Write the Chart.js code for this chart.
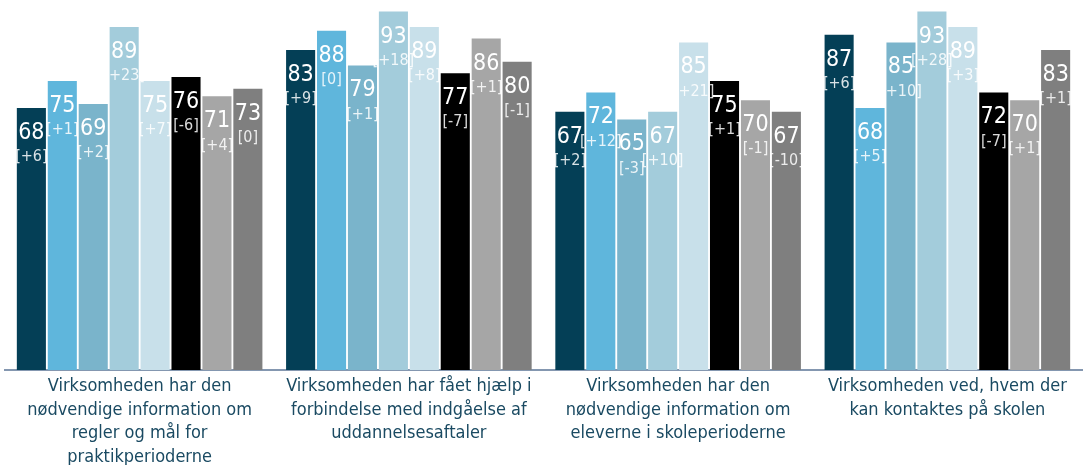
<!DOCTYPE html>
<html>
<head>
<meta charset="utf-8">
<script src="https://cdn.jsdelivr.net/npm/chart.js@4/dist/chart.umd.min.js"></script>
<style>
  html, body { margin: 0; padding: 0; background: #ffffff; }
  #wrap { width: 1083px; height: 465px; position: relative; }
</style>
</head>
<body>
<div id="wrap"><canvas id="c" width="1083" height="465"></canvas></div>
<script>
const categories = [
  ["Virksomheden har den", "nødvendige information om", "regler og mål for", "praktikperioderne"],
  ["Virksomheden har fået hjælp i", "forbindelse med indgåelse af", "uddannelsesaftaler"],
  ["Virksomheden har den", "nødvendige information om", "eleverne i skoleperioderne"],
  ["Virksomheden ved, hvem der", "kan kontaktes på skolen"]
];
const series1 = [68, 83, 67, 87];
const series2 = [75, 88, 72, 68];
const series3 = [69, 79, 65, 85];
const series4 = [89, 93, 67, 93];
const series5 = [75, 89, 85, 89];
const series6 = [76, 77, 75, 72];
const series7 = [71, 86, 70, 70];
const series8 = [73, 80, 67, 83];
const change1 = [6, 9, 2, 6];
const change2 = [1, 0, 12, 5];
const change3 = [2, 1, -3, 10];
const change4 = [23, 18, 10, 28];
const change5 = [7, 8, 21, 3];
const change6 = [-6, -7, 1, -7];
const change7 = [4, 1, -1, 1];
const change8 = [0, -1, -10, 1];
const colors = ["#043f56", "#5fb6dc", "#7ab4cb", "#a3ccdb", "#c8e0ea", "#000000", "#a6a6a6", "#7f7f7f"];

const values = [series1, series2, series3, series4, series5, series6, series7, series8];
const changes = [change1, change2, change3, change4, change5, change6, change7, change8];

const FONT = '"DejaVu Sans Condensed", "Noto Sans", sans-serif';

const fmtChange = v => "[" + (v > 0 ? "+" + v : String(v)) + "]";

const labelPlugin = {
  id: 'barLabels',
  afterDatasetsDraw(chart) {
    const ctx = chart.ctx;
    ctx.save();
    ctx.textAlign = 'center';
    ctx.textBaseline = 'middle';
    chart.data.datasets.forEach((ds, di) => {
      const meta = chart.getDatasetMeta(di);
      meta.data.forEach((bar, i) => {
        ctx.fillStyle = '#ffffff';
        ctx.font = '23px ' + FONT;
        ctx.fillText(String(ds.data[i]), bar.x, bar.y + 25);
        ctx.fillStyle = 'rgba(255,255,255,0.85)';
        ctx.font = '16px ' + FONT;
        ctx.fillText(fmtChange(changes[di][i]), bar.x, bar.y + 49);
      });
    });
    ctx.restore();
  }
};

new Chart(document.getElementById('c'), {
  type: 'bar',
  data: {
    labels: categories,
    datasets: values.map((v, i) => ({
      label: 'S' + (i + 1),
      data: v,
      backgroundColor: colors[i],
      borderWidth: 0,
      categoryPercentage: 0.919,
      barPercentage: 0.94
    }))
  },
  options: {
    responsive: false,
    animation: false,
    layout: { padding: { left: 5, right: 1, top: 0, bottom: 0 } },
    plugins: { legend: { display: false }, tooltip: { enabled: false } },
    scales: {
      x: {
        grid: { display: true, drawOnChartArea: false, drawTicks: false, color: 'rgba(0,0,0,0)' },
        border: { display: true, color: '#8497b0', width: 2 },
        ticks: {
          color: '#1a4a62',
          font: { family: FONT, size: 18, lineHeight: 1.3 },
          padding: 5,
          maxRotation: 0,
          autoSkip: false
        },
        afterFit(scale) { scale.height = 95; }
      },
      y: {
        display: false,
        min: 0,
        max: 96
      }
    }
  },
  plugins: [labelPlugin]
});
</script>
</body>
</html>
